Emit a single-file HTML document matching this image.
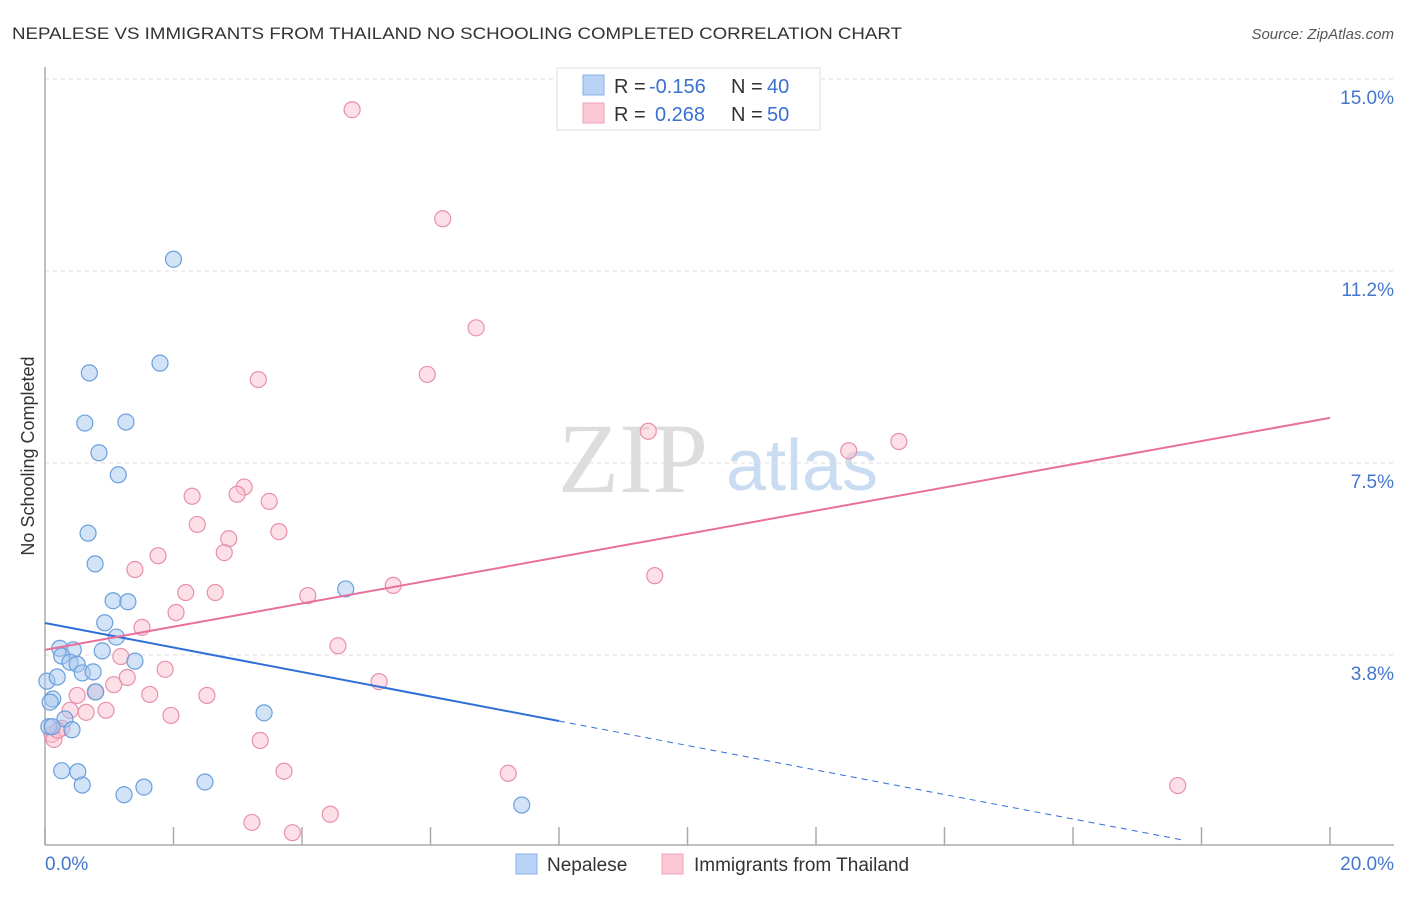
<!DOCTYPE html>
<html><head><meta charset="utf-8"><style>
body{margin:0;background:#fff}
</style></head><body>
<svg width="1406" height="892" xmlns="http://www.w3.org/2000/svg" font-family="Liberation Sans, sans-serif">
<text x="12" y="39" font-size="17" fill="#333" textLength="890" lengthAdjust="spacingAndGlyphs">NEPALESE VS IMMIGRANTS FROM THAILAND NO SCHOOLING COMPLETED CORRELATION CHART</text>
<text x="1394" y="39" font-size="15" fill="#555" font-style="italic" text-anchor="end">Source: ZipAtlas.com</text>
<text x="633" y="492" font-size="100" fill="#ddd" font-family="Liberation Serif, serif" text-anchor="middle">ZIP</text>
<text x="802" y="490" font-size="72" fill="#c9dcf2" text-anchor="middle">atlas</text>
<g id="grid"></g>
<g id="axes"></g>
<g id="points"></g>
<g id="lines"></g>
<text x="34" y="456" font-size="18" fill="#333" text-anchor="middle" transform="rotate(-90 34 456)">No Schooling Completed</text>
<text x="45" y="870" font-size="19" fill="#4477cc">0.0%</text>
<text x="1394" y="870" font-size="19" fill="#4477cc" text-anchor="end">20.0%</text>
<g>
<rect x="557" y="68" width="263" height="62" fill="#fff" stroke="#ddd"/>
<rect x="583" y="75" width="21" height="20" fill="#b8d3f5" stroke="#88b0e4"/>
<rect x="583" y="103" width="21" height="20" fill="#fcc8d6" stroke="#eea0b8"/>
<text x="614" y="93" font-size="20" fill="#333">R = <tspan fill="#3a70d0" x="649">-0.156</tspan><tspan x="731">N = </tspan><tspan fill="#3a70d0" x="767">40</tspan></text>
<text x="614" y="121" font-size="20" fill="#333">R = <tspan fill="#3a70d0" x="655">0.268</tspan><tspan x="731">N = </tspan><tspan fill="#3a70d0" x="767">50</tspan></text>
</g>
<g>
<rect x="516" y="854" width="21" height="20" fill="#b8d3f5" stroke="#88b0e4"/>
<text x="547" y="871" font-size="19" fill="#333">Nepalese</text>
<rect x="662" y="854" width="21" height="20" fill="#fcc8d6" stroke="#eea0b8"/>
<text x="694" y="871" font-size="19" fill="#333">Immigrants from Thailand</text>
</g>
</svg>
<script>
const yTicks=[3.75,7.5,11.25,15];
const yTickLabels=["3.8%","7.5%","11.2%","15.0%"];
const xTicks=[0,2,4,6,8,10,12,14,16,18,20];
const nepX=[2.0,1.79,0.69,0.62,1.26,0.84,1.14,0.67,0.78,1.06,1.29,0.93,1.11,0.23,0.44,0.89,0.26,0.39,0.5,1.4,0.58,0.75,0.03,0.19,0.79,0.12,0.08,3.41,0.31,0.06,0.42,0.26,0.51,0.58,1.23,1.54,2.49,4.68,7.42,0.11];
const nepY=[11.48,9.45,9.26,8.28,8.3,7.7,7.27,6.13,5.53,4.81,4.79,4.38,4.1,3.88,3.85,3.83,3.73,3.61,3.57,3.63,3.4,3.42,3.24,3.32,3.03,2.89,2.83,2.62,2.5,2.35,2.29,1.49,1.47,1.21,1.02,1.17,1.27,5.04,0.82,2.35];
const thaiX=[4.78,6.19,6.71,3.32,5.95,9.39,12.51,13.29,2.29,3.1,2.99,3.49,2.37,3.64,2.86,2.79,1.76,1.4,9.49,2.19,2.65,5.42,4.09,2.04,1.51,4.56,1.18,1.87,1.28,5.2,1.07,0.5,1.63,0.78,2.52,0.39,0.64,0.95,1.96,0.26,0.11,0.14,3.35,3.72,7.21,17.63,4.44,3.22,3.85,0.2];
const thaiY=[14.4,12.27,10.14,9.13,9.23,8.12,7.74,7.92,6.85,7.03,6.89,6.75,6.3,6.16,6.02,5.75,5.69,5.42,5.3,4.97,4.97,5.11,4.91,4.58,4.29,3.93,3.72,3.47,3.31,3.23,3.17,2.96,2.98,3.03,2.96,2.67,2.63,2.67,2.57,2.32,2.2,2.1,2.08,1.48,1.44,1.2,0.64,0.48,0.28,2.28];
const blueFit=[4.375,-0.2393];
const pinkFit=[3.85,0.2266];
const X=v=>45+v*64.25, Y=v=>847-v*51.2;
const NS="http://www.w3.org/2000/svg";
function mk(tag,attrs,parent){const e=document.createElementNS(NS,tag);for(const k in attrs)e.setAttribute(k,attrs[k]);document.getElementById(parent).appendChild(e);return e;}
yTicks.forEach((t,i)=>{
 const g=mk('line',{x1:45,x2:1394,y1:Y(t),y2:Y(t),stroke:'#ddd','stroke-dasharray':'4,4'},'grid');
 
 
 const l=mk('text',{x:1394,y:Y(t)+25,'font-size':19,fill:'#4477cc','text-anchor':'end'},'grid');
 l.textContent=yTickLabels[i];
 
 
});
let a=mk('line',{x1:45,x2:45,y1:67,y2:845,stroke:'#aaa','stroke-width':1.5},'axes');


a=mk('line',{x1:45,x2:1394,y1:845,y2:845,stroke:'#aaa','stroke-width':1.5},'axes');


xTicks.forEach(t=>{const e=mk('line',{x1:X(t),x2:X(t),y1:827,y2:845,stroke:'#aaa','stroke-width':1.5},'axes');
 
 });
function pts(xs,ys,fill,stroke,name){xs.forEach((x,i)=>{const c=mk('circle',{cx:X(x),cy:Y(ys[i]),r:8,fill:fill,'fill-opacity':0.5,stroke:stroke,'stroke-width':1.2},'points');
 
 });}
pts(thaiX,thaiY,'#fbc0d0','#e890aa','thailand-point');
pts(nepX,nepY,'#a8c8f0','#6a9fdc','nepalese-point');
let l=mk('line',{x1:X(0),y1:Y(blueFit[0]),x2:X(8),y2:Y(blueFit[0]+8*blueFit[1]),stroke:'#2f6fd6','stroke-width':2},'lines');


l=mk('line',{x1:X(8),y1:Y(blueFit[0]+8*blueFit[1]),x2:X(17.75),y2:Y(blueFit[0]+17.75*blueFit[1]),stroke:'#2f6fd6','stroke-width':1,'stroke-dasharray':'6,5'},'lines');


l=mk('line',{x1:X(0),y1:Y(pinkFit[0]),x2:X(20),y2:Y(pinkFit[0]+20*pinkFit[1]),stroke:'#e8709a','stroke-width':2},'lines');


</script>
</body></html>
